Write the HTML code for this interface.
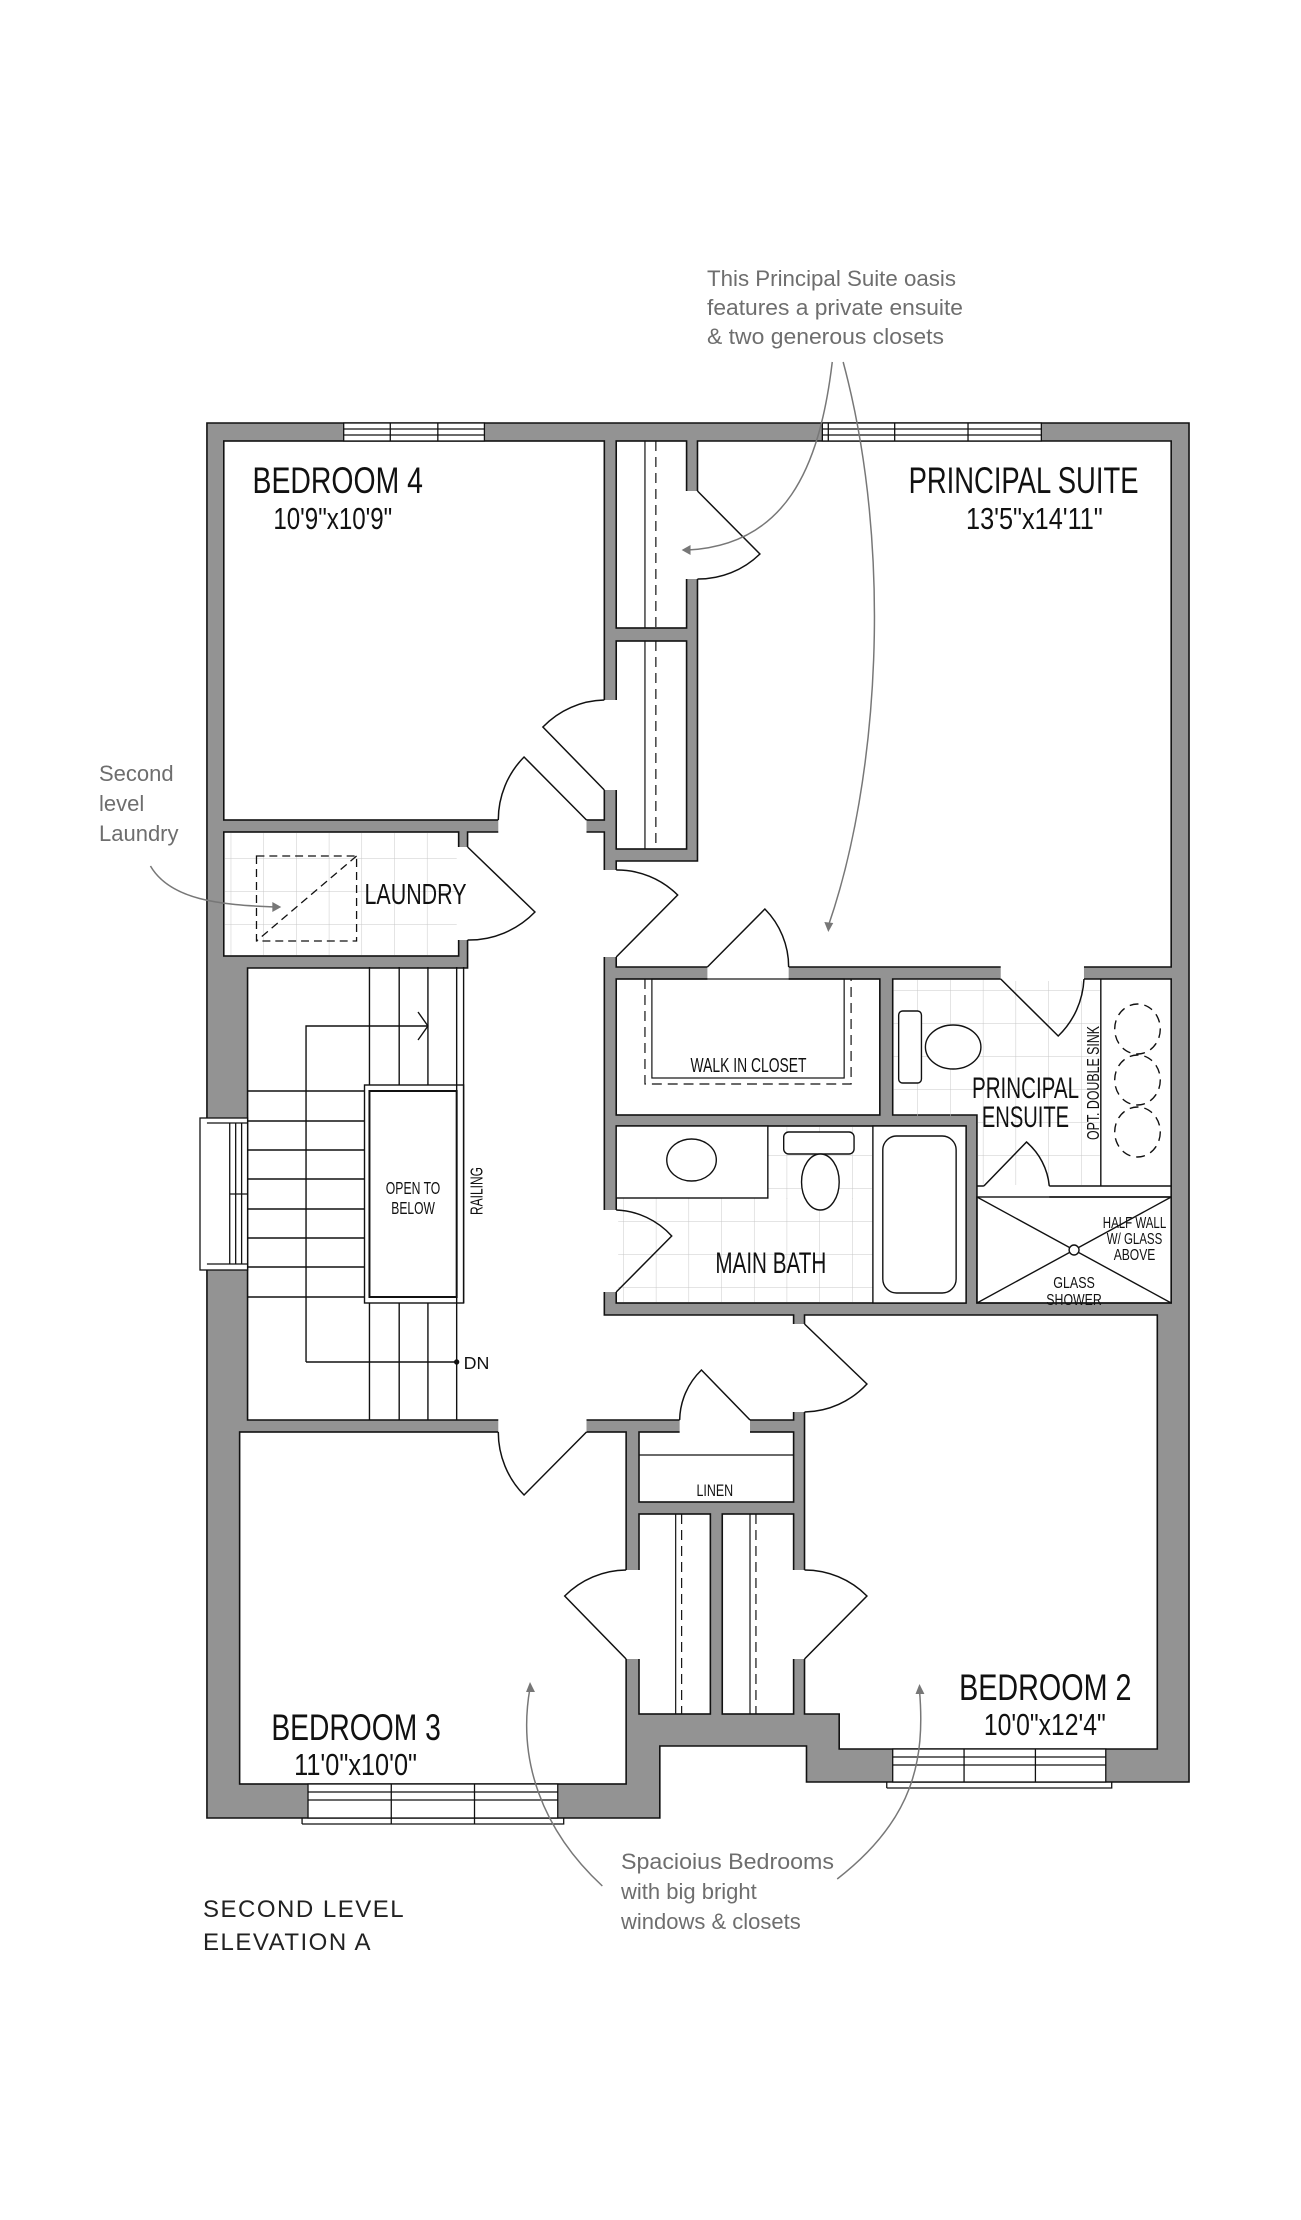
<!DOCTYPE html>
<html><head><meta charset="utf-8"><style>
html,body{margin:0;padding:0;background:#fff;}
svg{display:block;}
.rm{font-family:"Liberation Sans Narrow","Liberation Sans",sans-serif;fill:#111;}
.an{font-family:"Liberation Sans",sans-serif;fill:#6e6e6e;}
</style></head><body>
<svg width="1301" height="2220" viewBox="0 0 1301 2220" xmlns="http://www.w3.org/2000/svg">
<defs>
<pattern id="tile" width="33" height="33" patternUnits="userSpaceOnUse">
<path d="M0 0H33M0 0V33" stroke="#c8c8c8" stroke-width="1" fill="none"/>
</pattern>
</defs>
<g transform="matrix(0.991 0 0 1 1.8 0)">
<g stroke="#111" stroke-width="1.6">
<path d="M207 423H1198V1782H812V1746H664V1818H207Z" fill="#939393"/>
<g fill="#fff">
<rect x="224" y="441" width="384" height="379"/>
<rect x="620" y="441" width="71" height="187"/>
<rect x="620" y="641" width="71" height="208"/>
<path d="M702 441H1180V967H620V861H702Z"/>
<path d="M470 832H608V1315H799V1420H248V968H470Z"/>
<rect x="224" y="832" width="237" height="124"/>
<rect x="620" y="979" width="266" height="136"/>
<path d="M899 979H1180V1303H984V1115H899Z"/>
<rect x="620" y="1126" width="353" height="177"/>
<path d="M810 1315H1166V1749H845V1714H810Z"/>
<rect x="240" y="1432" width="390" height="352"/>
<rect x="643" y="1432" width="156" height="70"/>
<rect x="643" y="1514" width="72" height="200"/>
<rect x="727" y="1514" width="72" height="200"/>
</g>
<g stroke="none" fill="url(#tile)">
<rect x="225" y="833" width="235" height="122"/>
<path d="M900 980H1108V1185H985V1116H900Z"/>
<rect x="621" y="1198" width="258" height="104"/>
<rect x="773" y="1127" width="105" height="72"/>
</g>
<g fill="#fff" stroke="none">
<rect x="501" y="818" width="89" height="16"/>
<rect x="689" y="491" width="15" height="88"/>
<rect x="606" y="700" width="16" height="90"/>
<rect x="459" y="847" width="13" height="93"/>
<rect x="606" y="870" width="16" height="87"/>
<rect x="712" y="965" width="82" height="16"/>
<rect x="1008" y="965" width="84" height="16"/>
<rect x="606" y="1210" width="16" height="82"/>
<rect x="797" y="1324" width="15" height="88"/>
<rect x="684" y="1418" width="71" height="16"/>
<rect x="501" y="1418" width="89" height="16"/>
<rect x="628" y="1570" width="17" height="89"/>
<rect x="797" y="1570" width="15" height="89"/>
</g>
<g fill="none" stroke-width="1.5">
<path d="M590 820L527 757A89 89 0 0 0 501 820"/>
<path d="M702 491L765 554A89 89 0 0 1 702 579"/>
<path d="M608 790L546 727A89 89 0 0 1 608 700"/>
<path d="M470 847L538 912A93 93 0 0 1 470 940"/>
<path d="M620 870A87 87 0 0 1 682 895L620 957"/>
<path d="M712 967L770 909A82 82 0 0 1 794 967"/>
<path d="M1008 979L1066 1036A84 84 0 0 0 1092 979"/>
<path d="M620 1292L676 1236A80 80 0 0 0 620 1210"/>
<path d="M810 1324L873 1384A88 88 0 0 1 810 1412"/>
<path d="M755 1420L706 1370A71 71 0 0 0 684 1420"/>
<path d="M590 1432L527 1495A89 89 0 0 1 501 1432"/>
<path d="M630 1659L568 1596A89 89 0 0 1 630 1570"/>
<path d="M810 1659L873 1596A89 89 0 0 0 810 1570"/>
<path d="M991 1186L1034 1142A66 66 0 0 1 1057 1186"/>
</g>
<g fill="#fff" stroke-width="1.3">
<rect x="345" y="423" width="142" height="18"/>
<path d="M345 429H487M345 435H487M392 423V441M440 423V441" fill="none"/>
<rect x="828" y="423" width="221" height="18"/>
<path d="M828 429H1049M828 435H1049M901 423V441M975 423V441M834 423V441" fill="none"/>
<rect x="200" y="1118" width="48" height="152"/>
<path d="M230 1123V1264M236 1123V1264M242 1123V1264M230 1194H248M207 1123H248M207 1264H248" fill="none"/>
<rect x="309" y="1784" width="252" height="34"/>
<path d="M303 1824H567V1818M303 1824V1818M309 1792H561M309 1800H561M393 1784V1824M477 1784V1824" fill="none"/>
<rect x="899" y="1749" width="215" height="33"/>
<path d="M893 1788H1120V1782M893 1788V1782M899 1757H1114M899 1765H1114M971 1749V1782M1043 1749V1782" fill="none"/>
</g>
<g fill="none" stroke-width="1.4">
<path d="M371 967V1085M401 967V1085M430 967V1085M371 1303V1420M401 1303V1420M430 1303V1420M459 967V1420M466 967V1303"/>
<path d="M248 1091H366M248 1121H366M248 1150H366M248 1179H366M248 1209H366M248 1238H366M248 1267H366M248 1297H366"/>
<rect x="366" y="1085" width="100" height="218"/>
<rect x="371" y="1091" width="88" height="206" stroke-width="2"/>
<path d="M307 1362V1026H430M420 1012L430 1026L420 1040M307 1362H459"/>
<circle cx="459" cy="1362" r="2" fill="#111"/>
</g>
<g fill="none" stroke-width="1.2">
<path d="M649 441V628M649 641V849M680 1514V1714M755 1514V1714"/>
<path d="M660 441V628M660 641V849M686 1514V1714M761 1514V1714" stroke-dasharray="10 6"/>
<path d="M643 1455H799"/>
<rect x="656" y="979" width="194" height="99"/>
<path d="M649 979V1084H857V979" stroke-dasharray="10 6"/>
</g>
<g fill="none" stroke-width="1.3" stroke-dasharray="8 5">
<rect x="257" y="856" width="101" height="85"/>
<path d="M358 856L257 941"/>
</g>
<g fill="#fff" stroke-width="1.4">
<path d="M1109 979V1186M1057 1186H1180M1057 1197H1180M984 1186H991" fill="none"/>
<rect x="905" y="1011" width="23" height="72" rx="4"/>
<ellipse cx="960" cy="1047" rx="28" ry="22"/>
<g fill="none" stroke-dasharray="9 6">
<ellipse cx="1146" cy="1029" rx="23" ry="25"/>
<ellipse cx="1146" cy="1080" rx="23" ry="25"/>
<ellipse cx="1146" cy="1132" rx="23" ry="25"/>
</g>
<path d="M984 1197L1180 1303M1180 1197L984 1303" fill="none"/>
<circle cx="1082" cy="1250" r="5"/>
<rect x="984" y="1197" width="196" height="106" fill="none"/>
<rect x="620" y="1126" width="153" height="72"/>
<ellipse cx="696" cy="1160" rx="25" ry="21"/>
<rect x="789" y="1132" width="71" height="22" rx="5"/>
<ellipse cx="826" cy="1182" rx="19" ry="28"/>
<rect x="879" y="1126" width="94" height="177"/>
<rect x="889" y="1136" width="74" height="157" rx="14"/>
</g>
</g>
<g fill="none" stroke="#777" stroke-width="1.5">
<path d="M838 362C825 470 790 545 692 550"/>
<path d="M849 362C900 550 885 780 834 926"/>
<path d="M150 866C170 900 220 905 276 907"/>
<path d="M606 1886C545 1830 520 1760 533 1688"/>
<path d="M843 1879C920 1820 932 1760 926 1690"/>
</g>
<g fill="#777">
<path d="M686 550L695 545L695 555Z"/>
<path d="M834 932L830 922L839 923Z"/>
<path d="M282 907L273 902L273 912Z"/>
<path d="M533 1682L529 1692L538 1692Z"/>
<path d="M926 1684L922 1694L931 1694Z"/>
</g>
<g class="rm">
<text x="253" y="493" font-size="37" textLength="172" lengthAdjust="spacingAndGlyphs">BEDROOM 4</text>
<text x="274" y="529" font-size="31" textLength="120" lengthAdjust="spacingAndGlyphs">10'9"x10'9"</text>
<text x="915" y="493" font-size="37" textLength="232" lengthAdjust="spacingAndGlyphs">PRINCIPAL SUITE</text>
<text x="973" y="529" font-size="31" textLength="138" lengthAdjust="spacingAndGlyphs">13'5"x14'11"</text>
<text x="366" y="904" font-size="29" textLength="103" lengthAdjust="spacingAndGlyphs">LAUNDRY</text>
<text x="695" y="1072" font-size="20" textLength="117" lengthAdjust="spacingAndGlyphs">WALK IN CLOSET</text>
<text x="979" y="1098" font-size="30" textLength="108" lengthAdjust="spacingAndGlyphs">PRINCIPAL</text>
<text x="989" y="1127" font-size="30" textLength="88" lengthAdjust="spacingAndGlyphs">ENSUITE</text>
<text transform="translate(1107 1140) rotate(-90)" font-size="18" textLength="114" lengthAdjust="spacingAndGlyphs">OPT. DOUBLE SINK</text>
<g font-size="16" text-anchor="middle">
<text x="1143" y="1228" textLength="64" lengthAdjust="spacingAndGlyphs">HALF WALL</text>
<text x="1143" y="1244" textLength="56" lengthAdjust="spacingAndGlyphs">W/ GLASS</text>
<text x="1143" y="1260" textLength="42" lengthAdjust="spacingAndGlyphs">ABOVE</text>
<text x="1082" y="1288" textLength="42" lengthAdjust="spacingAndGlyphs">GLASS</text>
<text x="1082" y="1305" textLength="56" lengthAdjust="spacingAndGlyphs">SHOWER</text>
</g>
<text x="720" y="1273" font-size="30" textLength="112" lengthAdjust="spacingAndGlyphs">MAIN BATH</text>
<g font-size="18" text-anchor="middle">
<text x="415" y="1194" textLength="55" lengthAdjust="spacingAndGlyphs">OPEN TO</text>
<text x="415" y="1214" textLength="44" lengthAdjust="spacingAndGlyphs">BELOW</text>
</g>
<text transform="translate(485 1215) rotate(-90)" font-size="18" textLength="48" lengthAdjust="spacingAndGlyphs">RAILING</text>
<text x="466" y="1369" font-size="18">DN</text>
<text x="701" y="1496" font-size="17" textLength="37" lengthAdjust="spacingAndGlyphs">LINEN</text>
<text x="966" y="1700" font-size="37" textLength="174" lengthAdjust="spacingAndGlyphs">BEDROOM 2</text>
<text x="991" y="1735" font-size="31" textLength="123" lengthAdjust="spacingAndGlyphs">10'0"x12'4"</text>
<text x="272" y="1740" font-size="37" textLength="171" lengthAdjust="spacingAndGlyphs">BEDROOM 3</text>
<text x="295" y="1775" font-size="31" textLength="124" lengthAdjust="spacingAndGlyphs">11'0"x10'0"</text>
</g>
</g>
<g class="an" font-size="22">
<text x="707" y="286" textLength="249" lengthAdjust="spacingAndGlyphs">This Principal Suite oasis</text>
<text x="707" y="315" textLength="256" lengthAdjust="spacingAndGlyphs">features a private ensuite</text>
<text x="707" y="344" textLength="237" lengthAdjust="spacingAndGlyphs">&amp; two generous closets</text>
<text x="99" y="781">Second</text>
<text x="99" y="811">level</text>
<text x="99" y="841">Laundry</text>
<text x="621" y="1869" textLength="213" lengthAdjust="spacingAndGlyphs">Spacioius Bedrooms</text>
<text x="621" y="1899">with big bright</text>
<text x="621" y="1929">windows &amp; closets</text>
</g>
<g font-family="Liberation Sans, sans-serif" font-size="24" fill="#222" letter-spacing="1.5">
<text x="203" y="1917">SECOND LEVEL</text>
<text x="203" y="1950">ELEVATION A</text>
</g>
</svg>
</body></html>
